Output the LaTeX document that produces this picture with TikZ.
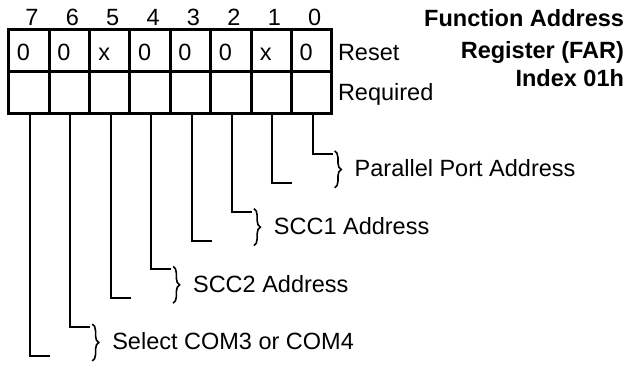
\documentclass[tikz,border=0pt]{standalone}
\usepackage{fontspec}
\setmainfont{Liberation Sans}
\usetikzlibrary{decorations.pathreplacing,calc}
\begin{document}
\begin{tikzpicture}[x=1bp,y=-1bp,
  every node/.style={font=\fontsize{23.5bp}{28bp}\selectfont, inner sep=0pt, outer sep=0pt},
  cell/.style={draw, line width=3bp, minimum width=40.4bp, minimum height=42bp, rectangle},
  leader/.style={line width=2bp},
  bracestyle/.style={line width=1.6bp, decorate, decoration={brace, amplitude=6.5bp, aspect=0.5}},
  titlefont/.style={font=\fontsize{23.5bp}{28bp}\selectfont\bfseries}
]
\useasboundingbox (0,0) rectangle (628,364);
% register cells
\foreach \b/\v in {7/0,6/0,5/x,4/0,3/0,2/0,1/x,0/0} {
  \pgfmathsetmacro\cx{8.7+40.4*(7-\b)+20.2}
  \pgfmathsetmacro\yy{154+28.85*\b}
  \node[cell] (r\b) at (\cx,50.5) {};
  \node[cell] (q\b) at (\cx,92.5) {};
  \node[anchor=base] (n\b) at (\cx+3,25) {\b};
  \node[anchor=base] (v\b) at (\cx-5.5,60) {\v};
  \coordinate (e\b) at (\cx+21,\yy);
  \draw[leader] ([xshift=1bp]q\b.south) |- (e\b);
}
\node[anchor=base west] (reset) at (338,60) {Reset};
\node[anchor=base west] (req) at (338,100) {Required};
% title
\node[titlefont, anchor=base east] (t1) at (624,26) {Function Address};
\node[titlefont, anchor=base east] (t2) at (624,58) {Register (FAR)};
\node[titlefont, anchor=base east] (t3) at (624,86) {Index 01h};
% braces and labels
\foreach \p/\lo/\hi/\txt in {0/0/1/Parallel Port Address, 1/2/3/SCC1 Address, 2/4/5/SCC2 Address, 3/6/7/Select COM3 or COM4} {
  \coordinate (bt\p) at ($(e\lo)+(2,-3)$);
  \coordinate (bb\p) at ($(e\lo |- e\hi)+(2,5)$);
  \draw[bracestyle] (bt\p) -- (bb\p);
  \node[anchor=west] (l\p) at ($(bt\p)!0.5!(bb\p)+(20,-1)$) {\txt};
}
\end{tikzpicture}
\end{document}
